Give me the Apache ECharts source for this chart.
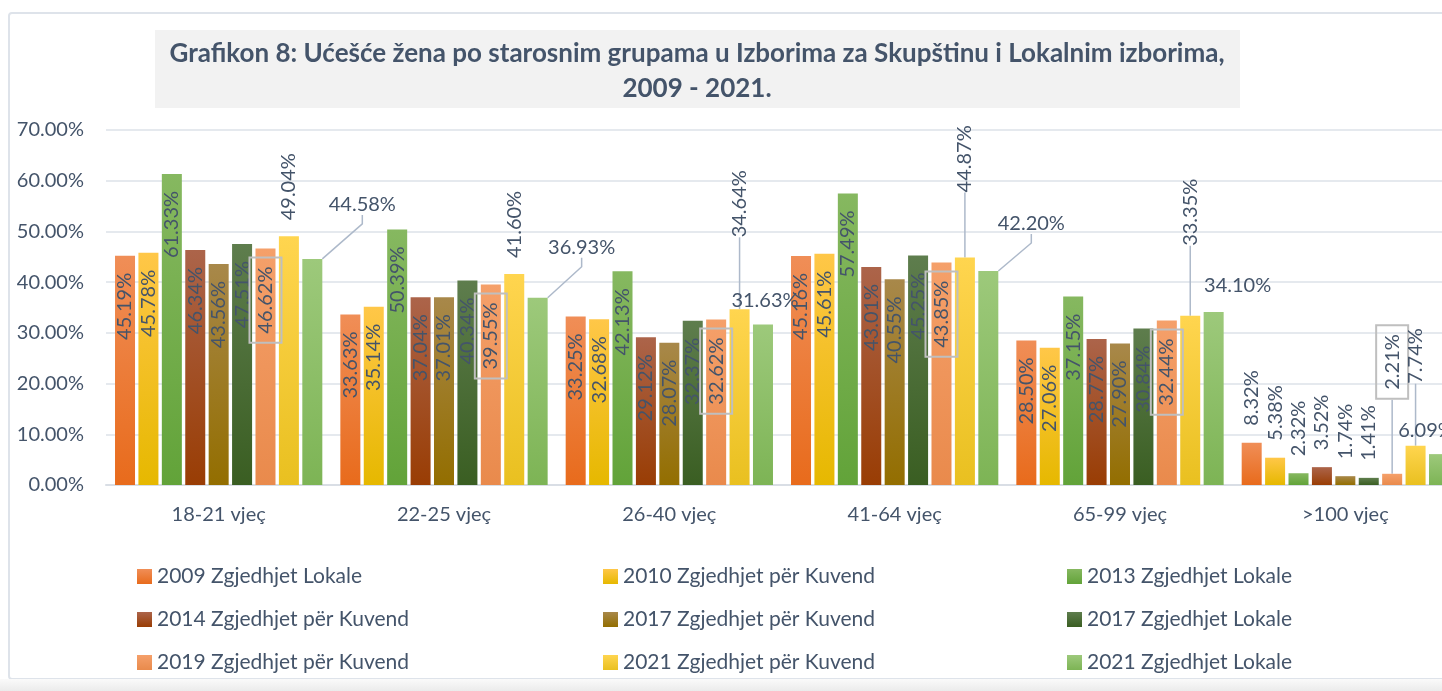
<!DOCTYPE html>
<html>
<head>
<meta charset="utf-8">
<script src="https://cdn.jsdelivr.net/npm/echarts@6/dist/echarts.min.js"></script>
<style>
  html, body { margin: 0; padding: 0; background: #fff; overflow: hidden; }
  #chart { width: 1442px; height: 691px; }
</style>
</head>
<body>
<div id="chart"></div>
<script>
// age groups
const categories = ['18-21 vjeç', '22-25 vjeç', '26-40 vjeç', '41-64 vjeç', '65-99 vjeç', '>100 vjeç']

// share of women per election (%)
const lokale2009 = [45.19, 33.63, 33.25, 45.16, 28.5, 8.32]
const kuvend2010 = [45.78, 35.14, 32.68, 45.61, 27.06, 5.38]
const lokale2013 = [61.33, 50.39, 42.13, 57.49, 37.15, 2.32]
const kuvend2014 = [46.34, 37.04, 29.12, 43.01, 28.77, 3.52]
const kuvend2017 = [43.56, 37.01, 28.07, 40.55, 27.9, 1.74]
const lokale2017 = [47.51, 40.34, 32.37, 45.25, 30.84, 1.41]
const kuvend2019 = [46.62, 39.55, 32.62, 43.85, 32.44, 2.21]
const kuvend2021 = [49.04, 41.6, 34.64, 44.87, 33.35, 7.74]
const lokale2021 = [44.58, 36.93, 31.63, 42.2, 34.1, 6.09]

const yTicks = [0, 10, 20, 30, 40, 50, 60, 70]

// label nudges (px), like the hand-moved labels in the excel sheet.
// rotated labels get shifted in their own frame, so "lift" goes in dx
const kuvend2019Lift = [0, 0, 0, 0, 0, 67]
const kuvend2021Lift = [0, 0, 56, 49, 54, 46]
const lokale2021Dx = [50, 44, 2, 43, 24, -13]
const lokale2021Dy = [-39, -35, -9, -32, -12, -9]

const FONT = 'Lato'
const TEXT = '#44546A'

const grad = (top, bottom) => ({
  type: 'linear', x: 0, y: 0, x2: 0, y2: 1,
  colorStops: [{ offset: 0, color: top }, { offset: 1, color: bottom }]
})

const seriesDefs = [
  { name: '2009 Zgjedhjet Lokale', values: lokale2009, color: grad('#F08E57', '#E86B1C') },
  { name: '2010 Zgjedhjet për Kuvend', values: kuvend2010, color: grad('#FFC748', '#E6B800') },
  { name: '2013 Zgjedhjet Lokale', values: lokale2013, color: grad('#86B860', '#62A339') },
  { name: '2014 Zgjedhjet për Kuvend', values: kuvend2014, color: grad('#AC644A', '#993D04') },
  { name: '2017 Zgjedhjet për Kuvend', values: kuvend2017, color: grad('#A8884A', '#936E00') },
  { name: '2017 Zgjedhjet Lokale', values: lokale2017, color: grad('#5E7D4D', '#3A5E22') },
  { name: '2019 Zgjedhjet për Kuvend', values: kuvend2019, color: grad('#F5A06A', '#E98A4C') },
  { name: '2021 Zgjedhjet për Kuvend', values: kuvend2021, color: grad('#FFD54F', '#E9C020') },
  { name: '2021 Zgjedhjet Lokale', values: lokale2021, color: grad('#9DC97B', '#7DB455') }
]

const pct = (p) => p.value.toFixed(2) + '%'

const insideLabel = {
  show: true,
  position: 'insideTop',
  rotate: 90,
  align: 'right',
  verticalAlign: 'middle',
  distance: 17,
  fontFamily: FONT,
  fontSize: 20,
  color: TEXT,
  formatter: pct
}
const aboveLabel = { position: 'top', align: 'left', distance: 17 }
const guide = { show: true, lineStyle: { color: '#ADB9CA', width: 1.5 } }

const series = seriesDefs.map((s, si) => {
  const base = {
    name: s.name,
    type: 'bar',
    barGap: '17%',
    barCategoryGap: '8%',
    itemStyle: { color: s.color },
    label: insideLabel,
    labelLine: guide,
    data: s.values.map((v) => (v < 10
      ? { value: v, label: aboveLabel, labelLine: { show: false } }
      : { value: v, labelLine: { show: false } }))
  }
  if (si === 6) {
    base.label = Object.assign({}, insideLabel, {
      distance: 9,
      borderColor: '#BFBFBF',
      borderWidth: 2,
      padding: [6, 9]
    })
    base.data = s.values.map((v, i) => (v < 10
      ? { value: v, label: { position: 'top', align: 'left', distance: 8 }, labelLine: { show: kuvend2019Lift[i] !== 0 } }
      : { value: v, labelLine: { show: false } }))
    base.labelLayout = (p) => ({ dx: kuvend2019Lift[p.dataIndex] })
  }
  if (si === 7) {
    base.label = Object.assign({}, insideLabel, { position: 'top', align: 'left', distance: 16 })
    base.data = s.values.map((v, i) => ({ value: v, labelLine: { show: kuvend2021Lift[i] !== 0 } }))
    base.labelLayout = (p) => ({ dx: kuvend2021Lift[p.dataIndex] })
  }
  if (si === 8) {
    base.label = { show: true, position: 'top', distance: 5, fontFamily: FONT, fontSize: 20, color: TEXT, formatter: pct }
    // length2 makes the guide hook onto the bottom of the label
    base.labelLine = { show: true, length2: 9, lineStyle: { color: '#ADB9CA', width: 1.5 } }
    base.data = s.values.map((v, i) => ({ value: v, labelLine: { show: Math.abs(lokale2021Dy[i]) > 20 } }))
    base.labelLayout = (p) => ({ dx: lokale2021Dx[p.dataIndex], dy: lokale2021Dy[p.dataIndex] })
  }
  return base
})

const legendColumn = (names, left) => ({
  orient: 'vertical',
  left: left,
  top: 561,
  icon: 'rect',
  itemWidth: 15,
  itemHeight: 15,
  itemGap: 22,
  data: names,
  textStyle: { fontFamily: FONT, fontSize: 21, color: TEXT, lineHeight: 21 }
})

const chart = echarts.init(document.getElementById('chart'))
chart.setOption({
  animation: false,
  backgroundColor: '#fff',
  title: {
    text: 'Grafikon 8: Ućešće žena po starosnim grupama u Izborima za Skupštinu i Lokalnim izborima,\n2009 - 2021.',
    left: 697,
    top: 36,
    padding: 0,
    textAlign: 'center',
    textStyle: { fontFamily: FONT, fontWeight: 'bold', fontSize: 26, lineHeight: 35, color: TEXT }
  },
  graphic: [
    { type: 'rect', left: 8, top: 12, z: -10, shape: { width: 1460, height: 666, r: 3 }, style: { fill: '#fff', stroke: '#DEE3EA', lineWidth: 2 } },
    { type: 'rect', left: 155, top: 30, z: -5, shape: { width: 1085, height: 78 }, style: { fill: '#F2F2F2' } },
    { type: 'rect', left: 0, top: 679, z: -5, shape: { width: 1442, height: 12 }, style: { fill: grad('#FAFAFA', '#EBEBEB') } }
  ],
  legend: [
    legendColumn([seriesDefs[0].name, seriesDefs[3].name, seriesDefs[6].name], 132),
    legendColumn([seriesDefs[1].name, seriesDefs[4].name, seriesDefs[7].name], 598),
    legendColumn([seriesDefs[2].name, seriesDefs[5].name, seriesDefs[8].name], 1062)
  ],
  // the plot runs a little past the right edge, as in the source image
  grid: { left: 106, width: 1352, top: 130, bottom: 206, outerBoundsMode: 'none', containLabel: false },
  xAxis: {
    type: 'category',
    data: categories,
    axisLine: { lineStyle: { color: '#D9DEE5', width: 2 } },
    axisTick: { show: false },
    axisLabel: { fontFamily: FONT, fontSize: 20, color: TEXT, margin: 20 }
  },
  yAxis: {
    type: 'value',
    min: yTicks[0],
    max: yTicks[yTicks.length - 1],
    interval: 10,
    axisLine: { show: false },
    axisTick: { show: false },
    splitLine: { lineStyle: { color: '#DDE2E8', width: 1.5 } },
    axisLabel: { fontFamily: FONT, fontSize: 20, color: TEXT, margin: 22, formatter: (v) => v.toFixed(2) + '%' }
  },
  series: series
})
</script>
</body>
</html>
